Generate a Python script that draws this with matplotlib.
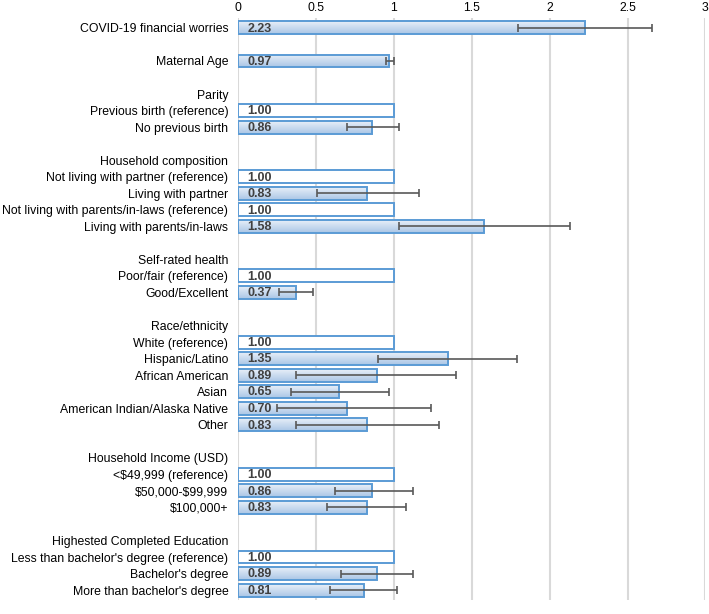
import numpy as np
import matplotlib.pyplot as plt

plt.rcParams['font.family'] = ['Liberation Sans', 'DejaVu Sans']
plt.rcParams['text.parse_math'] = False

# rows from top to bottom; "" = spacer, headers have no value
labels = [
    "COVID-19 financial worries", "",
    "Maternal Age", "",
    "Parity", "Previous birth (reference)", "No previous birth", "",
    "Household composition", "Not living with partner (reference)", "Living with partner",
    "Not living with parents/in-laws (reference)", "Living with parents/in-laws", "",
    "Self-rated health", "Poor/fair (reference)", "Good/Excellent", "",
    "Race/ethnicity", "White (reference)", "Hispanic/Latino", "African American", "Asian",
    "American Indian/Alaska Native", "Other", "",
    "Household Income (USD)", "<$49,999 (reference)", "$50,000-$99,999", "$100,000+", "",
    "Highested Completed Education", "Less than bachelor's degree (reference)",
    "Bachelor's degree", "More than bachelor's degree",
]
nan = np.nan
odds = [
    2.23, nan,
    0.97, nan,
    nan, 1.00, 0.86, nan,
    nan, 1.00, 0.83, 1.00, 1.58, nan,
    nan, 1.00, 0.37, nan,
    nan, 1.00, 1.35, 0.89, 0.65, 0.70, 0.83, nan,
    nan, 1.00, 0.86, 0.83, nan,
    nan, 1.00, 0.89, 0.81,
]
ci_low = [
    1.80, nan,
    0.95, nan,
    nan, nan, 0.70, nan,
    nan, nan, 0.51, nan, 1.03, nan,
    nan, nan, 0.26, nan,
    nan, nan, 0.90, 0.37, 0.34, 0.25, 0.37, nan,
    nan, nan, 0.62, 0.57, nan,
    nan, nan, 0.66, 0.59,
]
ci_high = [
    2.66, nan,
    1.00, nan,
    nan, nan, 1.03, nan,
    nan, nan, 1.16, nan, 2.13, nan,
    nan, nan, 0.48, nan,
    nan, nan, 1.79, 1.40, 0.97, 1.24, 1.29, nan,
    nan, nan, 1.12, 1.08, nan,
    nan, nan, 1.12, 1.02,
]

odds = np.array(odds)
ci_low = np.array(ci_low)
ci_high = np.array(ci_high)
is_ref = np.array(["(reference)" in s for s in labels])
y = np.arange(len(labels))

fig = plt.figure(figsize=(7.09, 6.14), dpi=100)
ax = fig.add_axes([0.3357, 0.0228, 0.6593, 0.9479])

edge = '#5b9bd5'
has_bar = ~np.isnan(odds)
bars = ax.barh(y[has_bar], odds[has_bar], height=0.78, color='white',
               edgecolor=edge, linewidth=1.4, zorder=3)

# gradient fill for the non-reference bars
grad = np.linspace(0, 1, 64).reshape(-1, 1)
cmap = plt.matplotlib.colors.LinearSegmentedColormap.from_list('g', ['#e8eff8', '#aac6e6'])
for bar, ref in zip(bars, is_ref[has_bar]):
    if ref:
        continue
    x0, y0 = bar.get_x(), bar.get_y()
    w, h = bar.get_width(), bar.get_height()
    im = ax.imshow(grad, extent=[x0, x0 + w, y0 + h, y0], aspect='auto',
                   cmap=cmap, zorder=3.5, interpolation='bilinear')
    im.set_clip_path(bar)
    bar.set_facecolor('none')
    bar.set_zorder(4)

# confidence intervals
has_ci = ~np.isnan(ci_low)
ax.errorbar(odds[has_ci], y[has_ci],
            xerr=[odds[has_ci] - ci_low[has_ci], ci_high[has_ci] - odds[has_ci]],
            fmt='none', ecolor='#595959', elinewidth=1.2, capsize=3, capthick=1.2, zorder=5)

for yi, v in zip(y[has_bar], odds[has_bar]):
    ax.text(0.06, yi + 0.05, f"{v:.2f}", va='center', ha='left', fontsize=9,
            fontweight='bold', color='#404040', zorder=6)

ax.set_xlim(0, 3)
ax.set_ylim(len(labels) - 0.4, -0.6)
ax.set_xticks([0, 0.5, 1, 1.5, 2, 2.5, 3])
ax.set_xticklabels(['0', '0.5', '1', '1.5', '2', '2.5', '3'])
ax.xaxis.tick_top()
ax.set_yticks(y)
ax.set_yticklabels(labels)
ax.tick_params(axis='both', length=0, labelsize=8.8, colors='#000000')
ax.tick_params(axis='x', pad=3)
ax.tick_params(axis='y', pad=7)
ax.grid(axis='x', color='#d9d9d9', linewidth=1.5, zorder=0)
ax.set_axisbelow(True)
for s in ax.spines.values():
    s.set_visible(False)

fig.savefig('out.png', dpi=100)
